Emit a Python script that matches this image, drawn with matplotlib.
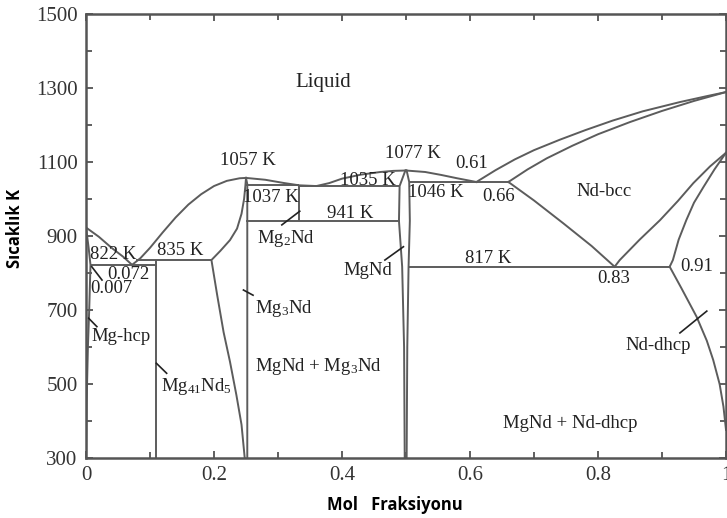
import matplotlib.pyplot as plt
from matplotlib.ticker import MultipleLocator

plt.rcParams["mathtext.fontset"] = "custom"
plt.rcParams["mathtext.rm"] = "Liberation Serif"
plt.rcParams["mathtext.it"] = "Liberation Serif:italic"

# Mg-Nd phase diagram, x = mole fraction Nd, T in K
liq_mg_x = [0.0, 0.02, 0.04, 0.058, 0.072]
liq_mg_t = [923, 898, 868, 844, 822]
liq_mg3nd_x = [0.072, 0.085, 0.10, 0.12, 0.14, 0.16, 0.18, 0.20, 0.22, 0.24, 0.25]
liq_mg3nd_t = [822, 840, 868, 910, 950, 985, 1013, 1035, 1049, 1056, 1057]
liq_mid_x = [0.25, 0.28, 0.31, 0.333, 0.36, 0.38, 0.40, 0.43, 0.46, 0.48, 0.50]
liq_mid_t = [1057, 1052, 1043, 1037, 1035, 1043, 1055, 1066, 1073, 1076, 1077]
liq_mgnd_x = [0.50, 0.53, 0.555, 0.58, 0.61]
liq_mgnd_t = [1077, 1073, 1065, 1056, 1046]
liq_nd_x = [0.61, 0.64, 0.67, 0.70, 0.74, 0.78, 0.823, 0.87, 0.928, 0.97, 1.0]
liq_nd_t = [1046, 1078, 1107, 1132, 1160, 1186, 1212, 1237, 1262, 1278, 1289]
sol_bcc_x = [0.66, 0.69, 0.72, 0.76, 0.80, 0.85, 0.90, 0.95, 1.0]
sol_bcc_t = [1046, 1080, 1110, 1144, 1175, 1208, 1238, 1265, 1289]

mghcp_x = [0.0, 0.004, 0.007, 0.005, 0.003, 0.001, 0.0]
mghcp_t = [923, 870, 822, 700, 600, 450, 300]

mg3nd_left_x = [0.25, 0.249, 0.247, 0.243, 0.236, 0.225, 0.21, 0.196,
                0.205, 0.215, 0.225, 0.235, 0.243, 0.248]
mg3nd_left_t = [1057, 1035, 1000, 960, 920, 889, 860, 835,
                740, 640, 560, 470, 390, 300]
mg3nd_right_x = [0.25, 0.252, 0.252, 0.252]
mg3nd_right_t = [1057, 1040, 700, 300]

mgnd_left_x = [0.499, 0.490, 0.489, 0.494, 0.497, 0.498]
mgnd_left_t = [1077, 1035, 941, 817, 600, 300]
mgnd_right_x = [0.501, 0.505, 0.506, 0.504, 0.502, 0.501]
mgnd_right_t = [1077, 1046, 941, 817, 600, 300]

bcc_left_x = [0.66, 0.70, 0.746, 0.79, 0.826]
bcc_left_t = [1046, 996, 934, 873, 817]
bcc_right_x = [0.826, 0.834, 0.865, 0.897, 0.925, 0.949, 0.975, 1.0]
bcc_right_t = [817, 835, 890, 943, 995, 1043, 1088, 1125]
dhcp_top_x = [0.912, 0.917, 0.926, 0.938, 0.950, 0.965, 0.982, 1.0]
dhcp_top_t = [817, 835, 890, 943, 990, 1033, 1080, 1125]
dhcp_solvus_x = [0.912, 0.93, 0.954, 0.97, 0.98, 0.99, 0.996, 1.0]
dhcp_solvus_t = [817, 760, 682, 617, 565, 500, 439, 376]

# invariant horizontals: (x_start, x_end, T)
horiz_x0 = [0.007, 0.078, 0.25, 0.25, 0.333, 0.505, 0.505]
horiz_x1 = [0.109, 0.196, 0.333, 0.49, 0.49, 0.66, 0.912]
horiz_t = [822, 835, 1037, 941, 1035, 1046, 817]

# line compounds: (x, T_bottom, T_top)
vert_x = [0.109, 0.333]
vert_t0 = [300, 941]
vert_t1 = [835, 1037]

# text labels
label_text = ["Liquid", "1057 K", "1077 K", "0.61", "1037 K", "1035 K", "1046 K",
              "0.66", "Nd-bcc", "941 K", "Mg$_2$Nd", "MgNd", "Mg$_3$Nd",
              "MgNd + Mg$_3$Nd", "817 K", "0.83", "0.91", "Nd-dhcp",
              "MgNd + Nd-dhcp", "822 K", "835 K", "0.072", "0.007", "Mg-hcp",
              "Mg$_{41}$Nd$_5$"]
label_x = [0.37, 0.253, 0.511, 0.603, 0.289, 0.44, 0.547, 0.644, 0.81, 0.413,
           0.313, 0.441, 0.31, 0.363, 0.629, 0.824, 0.954, 0.894, 0.756, 0.043,
           0.147, 0.066, 0.040, 0.055, 0.172]
label_t = [1316, 1105, 1124, 1097, 1004, 1049, 1018, 1006, 1021, 961,
           892, 808, 705, 547, 840, 786, 817, 605, 394, 849,
           862, 797, 757, 628, 494]

# leader lines ((x0, x1), (T0, T1))
leaders = [((0.306, 0.334), (930, 967)),
           ((0.467, 0.496), (835, 871)),
           ((0.246, 0.261), (754, 740)),
           ((0.928, 0.97), (638, 697)),
           ((0.009, 0.025), (817, 781)),
           ((0.004, 0.017), (678, 655)),
           ((0.11, 0.126), (556, 529))]

y_ticks = [300, 500, 700, 900, 1100, 1300, 1500]
x_ticks = [0, 0.2, 0.4, 0.6, 0.8, 1.0]
x_ticklabels = ["0", "0.2", "0.4", "0.6", "0.8", "1"]

line_kw = dict(color="#5c5c5c", lw=1.4)
serif = "Liberation Serif"

fig = plt.figure(figsize=(7.27, 5.18), dpi=100)
ax = fig.add_axes([86 / 727, 60 / 518, 640 / 727, 444 / 518])

curves = [(liq_mg_x, liq_mg_t), (liq_mg3nd_x, liq_mg3nd_t), (liq_mid_x, liq_mid_t),
          (liq_mgnd_x, liq_mgnd_t), (liq_nd_x, liq_nd_t), (sol_bcc_x, sol_bcc_t),
          (mghcp_x, mghcp_t), (mg3nd_left_x, mg3nd_left_t),
          (mg3nd_right_x, mg3nd_right_t), (mgnd_left_x, mgnd_left_t),
          (mgnd_right_x, mgnd_right_t), (bcc_left_x, bcc_left_t),
          (bcc_right_x, bcc_right_t), (dhcp_top_x, dhcp_top_t),
          (dhcp_solvus_x, dhcp_solvus_t)]
for xs, ts in curves:
    ax.plot(xs, ts, **line_kw)

ax.hlines(horiz_t, horiz_x0, horiz_x1, **line_kw)
ax.vlines(vert_x, vert_t0, vert_t1, **line_kw)

for (lx, lt) in leaders:
    ax.plot(lx, lt, color="#222222", lw=1.2)

for s, x, t in zip(label_text, label_x, label_t):
    size = 15 if s == "Liquid" else 13.5
    ax.text(x, t, s, ha="center", va="center", fontsize=size,
            family=serif, color="#222222")

ax.set_xlim(0, 1)
ax.set_ylim(300, 1500)
ax.set_xticks(x_ticks)
ax.set_xticklabels(x_ticklabels)
ax.xaxis.set_minor_locator(MultipleLocator(0.1))
ax.set_yticks(y_ticks)
ax.yaxis.set_minor_locator(MultipleLocator(100))
ax.tick_params(which="both", direction="in", top=True, right=True,
               color="#444444", width=1.2)
ax.tick_params(which="major", length=5, labelsize=15, pad=6)
ax.tick_params(which="minor", length=4)
for lab in ax.get_xticklabels() + ax.get_yticklabels():
    lab.set_family(serif)
    lab.set_color("#333333")
for sp in ax.spines.values():
    sp.set_color("#555555")
    sp.set_linewidth(1.8)

fig.text(15 / 727, 1 - 229 / 518, "Sıcaklık K", rotation=90, ha="center",
         va="center", fontsize=12, fontweight="bold", family="Open Sans")
fig.text(395 / 727, 1 - 505 / 518, "Mol   Fraksiyonu", ha="center",
         va="center", fontsize=12, fontweight="bold", family="Open Sans")

fig.savefig("out.png", dpi=100)
